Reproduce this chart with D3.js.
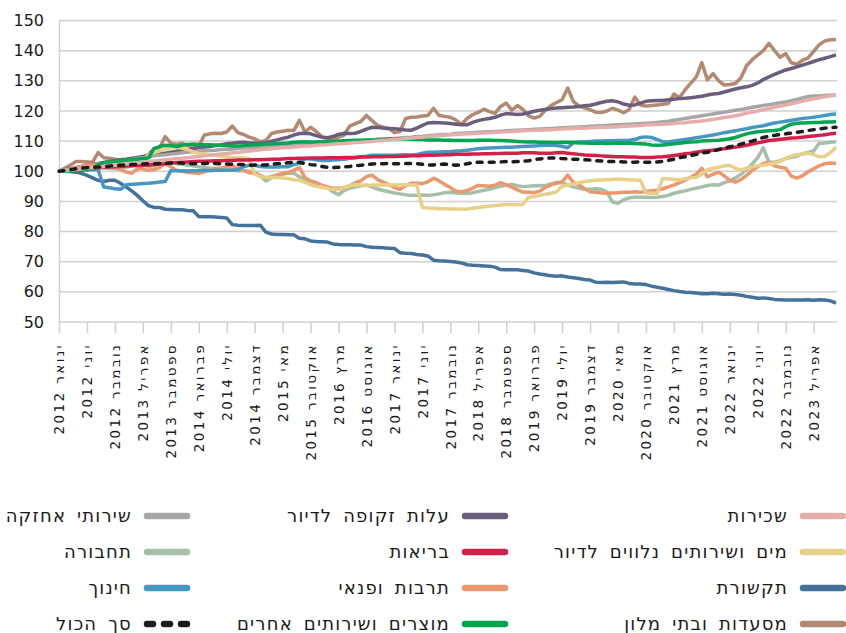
<!DOCTYPE html>
<meta charset="utf-8">
<script src="https://d3js.org/d3.v7.min.js"></script>
<style>
  body { margin: 0; background: #fff; }
  text { font-family: "DejaVu Sans", sans-serif; fill: #1a1a1a; }
</style>
<body>
<svg width="846" height="633"></svg>
</body>
<script>
  // tick labels, one every 5 months from Jan 2012
  const tickLabels = ['ינואר 2012','יוני 2012','נובמבר 2012','אפריל 2013','ספטמבר 2013','פברואר 2014',
    'יולי 2014','דצמבר 2014','מאי 2015','אוקטובר 2015','מרץ 2016','אוגוסט 2016','ינואר 2017','יוני 2017',
    'נובמבר 2017','אפריל 2018','ספטמבר 2018','פברואר 2019','יולי 2019','דצמבר 2019','מאי 2020',
    'אוקטובר 2020','מרץ 2021','אוגוסט 2021','ינואר 2022','יוני 2022','נובמבר 2022','אפריל 2023'];

  // monthly index values, Jan 2012 .. Aug 2023 (140 months)
  const rent = [
    100,100.2,100.4,100.6,100.8,101,101.2,101.4,101.6,101.8,102,102.2,
    102.4,102.6,102.8,103,103.2,103.4,103.6,103.8,104,104.2,104.3,104.5,
    104.7,104.9,105.1,105.3,105.5,105.7,105.9,106.1,106.3,106.5,106.7,106.9,
    107.1,107.3,107.5,107.6,107.8,107.9,108,108.2,108.3,108.4,108.6,108.7,
    108.8,109,109.1,109.2,109.4,109.5,109.6,109.8,109.9,110.1,110.3,110.4,
    110.6,110.7,110.9,111,111.2,111.3,111.5,111.6,111.8,111.9,112.1,112.2,
    112.3,112.4,112.5,112.6,112.7,112.8,112.9,113,113.1,113.2,113.3,113.4,
    113.5,113.6,113.6,113.7,113.8,113.9,114,114.1,114.2,114.3,114.3,114.4,
    114.5,114.6,114.6,114.7,114.8,114.9,115,115.1,115.2,115.3,115.4,115.5,
    115.6,115.7,115.8,116,116.1,116.3,116.5,116.7,116.9,117.2,117.5,117.8,
    118.1,118.4,118.8,119.2,119.6,120,120.4,120.8,121.2,121.6,122,122.4,
    122.8,123.2,123.6,124,124.4,124.7,125,125.3];
  const imputed = [
    100,100.4,100.8,101.2,101.6,102,102.3,102.6,102.9,103.2,103.5,103.8,
    104,104.3,104.6,104.9,105.2,105.5,105.7,106,106.3,106.6,106.9,107.2,
    107.5,107.8,108,108.2,108.5,108.8,109.1,109.3,109.5,109.6,109.4,109.4,
    109.3,109.5,110,110.4,110.9,111.3,112,112.5,112.6,112.4,111.8,111.3,
    111.1,111.5,112.2,112.6,112.5,112.6,113.2,114,114.6,114.5,114.3,114.2,
    114.1,113.9,113.7,113.6,114.3,115.2,116,116.2,116.1,116,115.8,115.6,
    115.4,115.4,116.2,116.8,117.2,117.5,117.9,118.6,119.1,119,118.8,119,
    119.4,119.9,120.2,120.5,120.8,121,121.1,121.2,121.3,121.5,121.7,121.9,
    122.3,122.8,123.2,123.4,123,122.3,121.9,122,122.6,123.2,123.4,123.5,
    123.5,123.7,123.9,124.1,124.2,124.4,124.6,124.9,125.3,125.6,125.8,126.3,
    126.8,127.3,127.7,128,128.5,129.3,130.4,131.3,132.1,132.9,133.6,134.1,
    134.6,135.2,135.8,136.4,137,137.5,138,138.6];
  const maintenance = [
    100,100.3,100.6,101,101.3,101.6,101.9,102.2,102.5,102.8,103,103.3,
    103.6,103.9,104.2,104.5,104.8,105.1,105.3,105.5,105.7,105.9,106.1,106.3,
    106.5,106.6,106.8,106.9,107,107.2,107.3,107.4,107.6,107.7,107.8,107.9,
    108,108.1,108.2,108.3,108.5,108.6,108.7,108.8,108.9,109,109.1,109.2,
    109.3,109.5,109.6,109.7,109.8,110,110.1,110.2,110.3,110.5,110.6,110.7,
    110.9,111,111.2,111.3,111.5,111.6,111.8,111.9,112.1,112.2,112.3,112.5,
    112.6,112.7,112.8,112.9,113,113.1,113.2,113.3,113.4,113.5,113.6,113.7,
    113.8,113.9,114,114.1,114.2,114.3,114.4,114.5,114.6,114.7,114.8,114.9,
    115,115.1,115.2,115.3,115.4,115.5,115.6,115.7,115.8,115.9,116,116.2,
    116.4,116.6,116.9,117.2,117.5,117.8,118.1,118.4,118.7,119,119.3,119.6,
    119.9,120.2,120.5,120.8,121.2,121.5,121.8,122.1,122.4,122.7,123,123.4,
    123.8,124.3,124.8,125,125,125.1,125.2,125.3];
  const water = [
    100,100.2,100.4,100.6,100.8,101,101.2,101.4,101.6,101.8,102,102.2,
    102.4,102.6,102.8,103.2,105.5,106.2,106.8,107.3,107.8,108,107.6,107.2,
    106.4,105.9,105.7,105.5,105.3,105,104.8,104.6,104.5,104.4,104.2,99,
    98.2,98,97.9,97.9,97.8,97.6,97.2,97,96.3,95.6,95,94.7,
    94.3,94,94,94.5,95.2,95.5,95.4,95.3,95.4,95.4,95.5,95.4,
    95.4,95.5,95.5,95.4,95.4,88,87.8,87.7,87.6,87.6,87.5,87.5,
    87.4,87.5,87.7,88,88.2,88.4,88.6,88.8,89,89,88.9,89,
    91.3,91.6,92,92.4,92.7,93.2,95,95.4,95.8,96.2,96.6,96.8,
    97,97.1,97.2,97.3,97.4,97.3,97.2,97.1,97,92.8,92.7,92.7,
    97.6,97.5,97.3,97.2,97.5,97.8,98,99,100.5,101,101.3,101.8,
    102,101,100.4,101,101.5,101.8,102,102.3,102.6,103.3,104.3,105,
    105.5,105.7,106,105.5,104.8,105,106.2,108];
  const health = [
    100,100.1,100.3,100.4,100.6,100.8,101,101.2,101.3,101.4,101.5,101.6,
    101.7,101.8,101.9,102,102.1,102.2,102.4,102.5,102.7,102.9,103,103.1,
    103.2,103.3,103.3,103.4,103.5,103.5,103.6,103.6,103.7,103.7,103.7,103.8,
    103.8,103.9,104,104,104.1,104.2,104.2,104.3,104.3,104.4,104.4,104.4,
    104.5,104.5,104.5,104.6,104.6,104.6,104.7,104.7,104.8,104.8,104.8,104.9,
    104.9,105,105,105.1,105.1,105.2,105.3,105.3,105.4,105.5,105.5,105.6,
    105.6,105.6,105.7,105.7,105.8,105.8,105.9,105.9,106,106,106,106.1,
    106.1,106.1,106,106,106,106.1,106.2,106,105.8,105.6,105.4,105.3,
    105.2,105.1,105,104.9,104.8,104.8,104.7,104.7,104.6,104.6,104.6,104.7,
    104.8,105,105.2,105.5,105.8,106,106.3,106.6,106.8,107,107.2,107.5,
    107.7,108,108.3,108.6,109,109.4,109.8,110.2,110.4,110.6,110.8,111,
    111.1,111.3,111.5,111.7,111.9,112.1,112.4,112.6];
  const transport = [
    100,100.2,100.5,100.8,101,101.2,101.3,101.2,101.1,101,100.8,101,
    101.3,101.8,102.5,102.2,101.5,101.8,102.6,103.4,102.8,102.5,102.3,102,
    101.8,101.5,101.3,101,100.8,100.6,100.4,100.3,100.2,100.2,100,99.8,
    98.5,96.8,97.8,98.7,99,99.4,99.3,98.2,97.3,96.4,95.8,95.2,
    94.6,93.2,92.2,93.6,94.4,94.8,95.2,95.4,94.8,94.1,93.6,93.2,
    92.8,92.5,92.2,92,92,92.1,92,92.2,92.5,92.9,93,92.8,
    92.7,92.6,92.9,93.3,93.7,94,94.6,95,95.4,95.6,95.2,94.9,
    95,95.2,95.3,95.2,95.8,96.3,96.2,95.5,94.8,94.4,94,94,
    94.2,94,93.2,89.8,89.4,90.5,91.2,91.4,91.4,91.4,91.3,91.4,
    91.6,92,92.7,93.1,93.5,94,94.4,94.8,95.3,95.5,95.4,96.2,
    96.8,97.8,99,100.6,102.4,104.5,107.8,103,103,103.5,104.2,104.6,
    105,105.8,106.2,106.7,109.3,109.4,109.6,109.8];
  const communication = [
    100,100,99.9,99.7,99.3,98.6,97.8,97,96.6,97,97,96,
    94.8,93.5,92,90.2,88.6,88,88,87.4,87.3,87.2,87.2,87,
    86.9,85,84.9,84.9,84.8,84.7,84.5,82.3,82.1,82,82,82,
    82.1,79.8,79.2,79,79,78.9,78.9,77.8,77.6,76.9,76.7,76.6,
    76.5,75.9,75.7,75.6,75.6,75.5,75.5,75,74.8,74.7,74.6,74.5,
    74.4,73,72.8,72.7,72.4,72.2,71.9,70.5,70.3,70.2,70.1,69.9,
    69.6,69,68.8,68.7,68.6,68.5,68.2,67.4,67.3,67.3,67.3,67.1,
    66.9,66.3,65.9,65.7,65.3,65.2,65.3,64.9,64.7,64.4,64.1,63.9,
    63.2,63.1,63.2,63.1,63.2,63.3,62.8,62.6,62.6,62.4,61.9,61.5,
    61.2,60.8,60.4,60.1,59.9,59.8,59.6,59.4,59.4,59.5,59.4,59.2,
    59.3,59.1,58.9,58.5,58.2,57.9,58,57.8,57.5,57.4,57.3,57.3,
    57.3,57.3,57.4,57.2,57.4,57.3,57,56.3];
  const culture = [
    100,100.3,100.6,101,101.5,102,102.2,102.5,102.4,101.5,101.3,100.5,
    99.8,99.3,100.8,100.8,100.3,100.6,101.2,102.6,101.5,100.3,100,99.7,
    99.4,99.3,99.8,100.6,101,101,101.5,101.8,101,100.3,99.5,99.3,
    98.6,97.8,98.2,98.8,99.3,99.6,100.3,101.3,97.9,96.8,96.2,95.4,
    94.8,94.4,94.4,94.5,95.2,96.2,96.8,98.2,98.7,97.2,96.4,95.6,
    94.6,94,95.2,96,96,95.9,96.5,97.7,96.8,95.6,94.6,93.4,
    93.2,93.6,94.4,95.3,95.2,95,95.4,96.2,95.5,94.7,93.8,93.1,
    93,92.9,93.4,94.6,95.5,96,96.5,98.7,96.3,95.5,94.2,93.2,
    93,92.8,92.7,92.8,92.9,93,93,93.2,93,93.3,93.5,93.7,
    94.2,94.8,95.4,96.2,97,98,99,101,98.2,99,99.7,98.5,
    97,96.4,97.2,98.6,100.3,101.5,102.6,103,101.8,101.3,101,98.4,
    97.7,98.5,99.8,100.8,101.8,102.5,102.7,102.6];
  const education = [
    100,100.1,100.2,100.3,100.4,100.5,100.5,100.5,94.8,94.5,94.2,94,
    95.5,95.7,95.8,95.9,96,96.2,96.4,96.6,100.2,100.2,100.2,100.1,
    100.2,100.2,100.3,100.2,100.3,100.3,100.3,100.4,100.5,101.5,102,102,
    101.6,101.4,101.4,101.4,101.5,101.5,102.2,102.6,104.2,104.1,103.8,103.6,
    103.6,103.7,103.8,104,104.3,104.5,104.8,105,105.3,105.3,105.3,105.3,
    105.3,105.4,105.5,105.4,105.6,106,106.3,106.3,106.4,106.5,106.5,106.7,
    106.8,107,107.2,107.5,107.6,107.7,107.8,107.9,108,108,108.1,108.2,
    108.3,108.4,108.5,108.6,108.6,108.5,108.3,107.8,109.5,109.7,109.8,109.9,
    110,110,110.1,110.1,110.2,110.2,110.3,110.5,111.2,111.4,111.2,110.5,
    109.8,109.7,110,110.3,110.5,110.8,111.1,111.4,111.7,112,112.4,112.8,
    113.1,113.4,113.8,114.1,114.5,114.8,115.1,115.6,116,116.3,116.6,116.9,
    117.2,117.5,117.7,117.9,118.2,118.5,118.8,119];
  const restaurants = [
    100,101,102,103.2,103.2,103.1,103,106.2,104.5,104.3,104,103.5,
    103.8,103.6,103.8,104.5,105.6,107.5,107.8,111.5,109.3,109,109.3,108.6,
    108,108.3,112,112.4,112.6,112.5,113,115,112.8,112.2,111.3,110.8,
    109.8,110.2,112.5,113,113.3,113.6,113.5,116.9,113,114.6,113.2,111.5,
    111,110.5,111.3,112,115,115.8,116.5,118.5,116.8,115.2,114.6,114.2,
    112.8,113.2,117.5,117.9,118,118.3,118.5,120.9,118.5,118.2,117.9,117,
    115.5,117.5,118.8,119.5,120.6,119.8,119.2,121.5,122.6,120.3,121.8,120.5,
    118.4,117.6,118.2,120.2,121.8,122.8,123.7,127.6,123.2,121.6,121,120.4,
    119.6,119.5,120,120.9,120.3,119.4,120.5,124.6,122,121.6,121.8,122,
    122.2,122.5,125.6,124.4,127,129.2,131.2,136,130.3,132.4,130,128.6,
    128.8,129.1,131,135,137,138.5,140,142.4,140,137.8,139,136,
    135.5,136.8,137.6,139.8,142,143.2,143.6,143.7];
  const otherGoods = [
    100,100,100,100.1,100.3,100.6,101,102.2,102.8,103.1,103.3,103.5,
    103.7,103.9,104,104.2,104.4,107.5,108.2,108.6,108.5,108.2,108.6,108.9,
    109,108.9,108.8,108.8,108.7,108.6,108.5,108.4,108.4,108.5,108.7,108.8,
    108.9,109,109.1,109.2,109.3,109.4,109.6,109.7,109.8,109.7,109.7,109.8,
    109.9,109.9,110,110.1,110.2,110.3,110.3,110.4,110.4,110.5,110.6,110.7,
    110.8,110.8,110.7,110.6,110.5,110.5,110.4,110.4,110.4,110.3,110.3,110.2,
    110.2,110.2,110.2,110.3,110.3,110.3,110.2,110.2,110.1,110,109.9,109.8,
    109.7,109.7,109.6,109.6,109.5,109.5,109.6,109.6,109.5,109.4,109.4,109.3,
    109.3,109.3,109.2,109.3,109.4,109.3,109.3,109.2,109.1,109,108.7,108.6,
    108.7,108.9,109.1,109.3,109.5,109.7,109.8,110,110.1,110.2,110.3,110.5,
    110.8,111.2,111.8,112.4,112.8,113.1,113.3,113.4,113.5,113.8,114.8,115.6,
    115.9,116,116.1,116.2,116.2,116.3,116.3,116.4];
  const total = [
    100,100.2,100.5,100.8,101,101.2,101.3,101.4,101.5,101.7,101.9,102,
    102.1,102.2,102.3,102.4,102.5,102.5,102.6,102.6,102.7,102.7,102.7,102.6,
    102.5,102.6,102.6,102.7,102.6,102.5,102.4,102.3,102.2,102.2,102,102.1,
    102,102.1,102.3,102.5,102.6,102.8,103,103,102.5,102.2,102,101.6,
    101.3,101.2,101.3,101.4,101.6,101.9,102,102.2,102.4,102.5,102.5,102.6,
    102.5,102.5,102.6,102.6,102.5,102.3,102.1,102.1,102.3,102.4,102.2,102,
    102.1,102.5,102.8,103,103,103,103,103.1,103.2,103.1,103.2,103.3,
    103.5,103.8,104.1,104.3,104.4,104.4,104.2,104.1,104,104,103.8,103.7,
    103.5,103.4,103.3,103.2,103.2,103.1,103,103,103.1,103,103,103.1,
    103.3,103.6,104,104.5,104.8,105.2,105.6,106,106.3,106.7,107.2,107.7,
    108.1,108.5,109,109.5,110,110.6,111.2,111.6,111.9,112.2,112.4,112.6,
    112.9,113.2,113.5,113.8,114,114.3,114.5,114.6];

  const series = [
    {name: 'שכירות', values: rent, color: '#e6aeab'},
    {name: 'עלות זקופה לדיור', values: imputed, color: '#6b5e7d'},
    {name: 'שירותי אחזקה', values: maintenance, color: '#a6a6a6'},
    {name: 'מים ושירותים נלווים לדיור', values: water, color: '#e9d089'},
    {name: 'בריאות', values: health, color: '#d3204b'},
    {name: 'תחבורה', values: transport, color: '#a4c0a8'},
    {name: 'תקשורת', values: communication, color: '#44729b'},
    {name: 'תרבות ופנאי', values: culture, color: '#e99870'},
    {name: 'חינוך', values: education, color: '#4797c3'},
    {name: 'מסעדות ובתי מלון', values: restaurants, color: '#b38972'},
    {name: 'מוצרים ושירותים אחרים', values: otherGoods, color: '#00a651'},
    {name: 'סך הכול', values: total, color: '#1c1c1c', dashed: true}
  ];

  const svg = d3.select('svg');
  const x = d3.scaleLinear().domain([0, rent.length - 1]).range([59, 836]);
  const y = d3.scaleLinear().domain([50, 150]).range([322, 20.5]);

  // gridlines
  const grid = svg.append('g');
  grid.selectAll('line').data(d3.range(50, 151, 10)).enter().append('line')
    .attr('x1', 59).attr('x2', 837)
    .attr('y1', d => y(d)).attr('y2', d => y(d))
    .attr('stroke', '#d0d0d0').attr('stroke-width', 1.5);

  // y axis
  const yAxis = d3.axisLeft(y).tickValues(d3.range(50, 151, 10)).tickSize(0).tickPadding(15);
  const gy = svg.append('g').attr('transform', 'translate(59,0)').call(yAxis);
  gy.select('.domain').attr('stroke', '#d0d0d0').attr('stroke-width', 1.5);
  gy.selectAll('text').style('font-family', '"DejaVu Sans", sans-serif').style('font-size', '16px').attr('fill', '#1a1a1a');

  // x axis: ticks every 5 months
  const tickIdx = tickLabels.map((d, i) => i * 5);
  const xAxis = d3.axisBottom(x).tickValues(tickIdx).tickSize(11).tickFormat((d, i) => tickLabels[i]);
  const gx = svg.append('g').attr('transform', 'translate(0,322)').call(xAxis);
  gx.select('.domain').remove();
  gx.selectAll('line').attr('stroke', '#d0d0d0').attr('stroke-width', 1.5);
  gx.selectAll('text')
    .style('font-family', '"DejaVu Sans", sans-serif').style('font-size', '13.5px').style('letter-spacing', '2.4px')
    .attr('fill', '#1a1a1a')
    .attr('text-anchor', 'end')
    .attr('transform', 'translate(0,21) rotate(-90)')
    .attr('x', 0).attr('y', 0).attr('dy', '0.35em');

  // lines
  const line = d3.line().x((d, i) => x(i)).y(d => y(d));
  const drawOrder = ['תקשורת','מסעדות ובתי מלון','עלות זקופה לדיור','שירותי אחזקה','תחבורה','תרבות ופנאי',
    'מים ושירותים נלווים לדיור','חינוך','בריאות','מוצרים ושירותים אחרים','שכירות','סך הכול'];
  drawOrder.forEach(n => {
    const s = series.find(d => d.name === n);
    svg.append('path').datum(s.values)
      .attr('d', line)
      .attr('fill', 'none')
      .attr('stroke', s.color)
      .attr('stroke-width', 3.5)
      .attr('stroke-linejoin', 'round')
      .attr('stroke-linecap', s.dashed ? 'round' : 'butt')
      .attr('stroke-dasharray', s.dashed ? '5,7' : null);
  });

  // legend: 3 columns right to left, 4 rows
  const colX = [803, 465, 147];   // start of sample line
  const rowY = [516, 552, 588, 624];
  const legend = svg.append('g');
  series.forEach((s, i) => {
    const col = i % 3, row = Math.floor(i / 3);
    const g = legend.append('g').attr('transform', `translate(${colX[col]},${rowY[row]})`);
    g.append('line').attr('x1', 0).attr('x2', 40).attr('y1', 0).attr('y2', 0)
      .attr('stroke', s.color).attr('stroke-width', 6.5).attr('stroke-linecap', 'round')
      .attr('stroke-dasharray', s.dashed ? '6,11' : null);
    g.append('text').attr('x', -15).attr('y', 0).attr('dy', '0.35em')
      .attr('text-anchor', 'end')
      .style('font-size', '18px').style('letter-spacing', '1.2px').style('word-spacing', '4px')
      .text(s.name);
  });
</script>
